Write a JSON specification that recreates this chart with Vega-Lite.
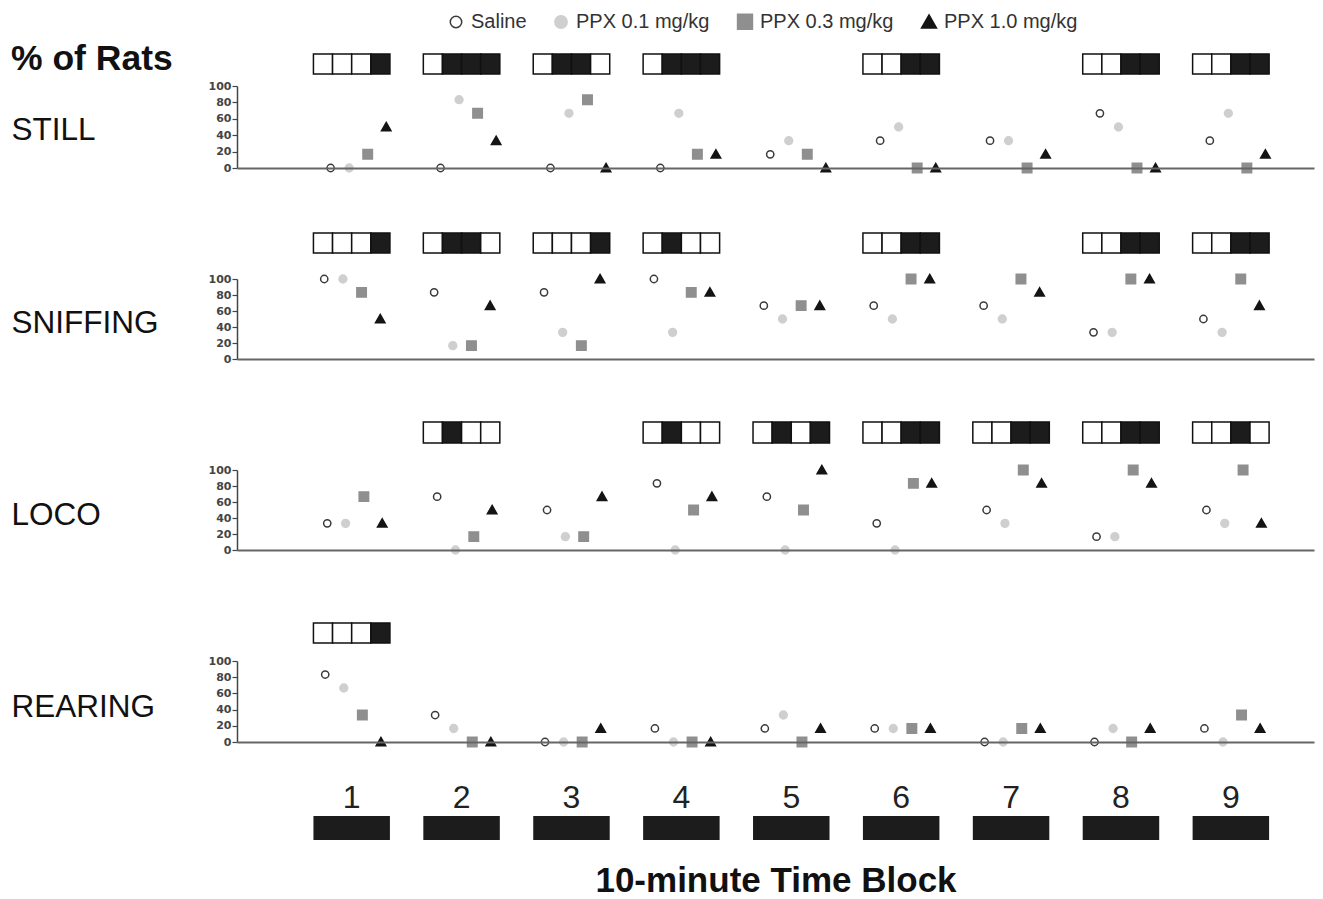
{
"$schema": "https://vega.github.io/schema/vega-lite/v6.json",
"padding": {"left": 11, "top": 11, "right": 9, "bottom": 4},
"background": "#ffffff",
"datasets": {
"pts": [
{"b":"STILL","block":1,"t":"Saline","v":0},{"b":"STILL","block":1,"t":"PPX 0.1 mg/kg","v":0},{"b":"STILL","block":1,"t":"PPX 0.3 mg/kg","v":16.7},{"b":"STILL","block":1,"t":"PPX 1.0 mg/kg","v":50},
{"b":"STILL","block":2,"t":"Saline","v":0},{"b":"STILL","block":2,"t":"PPX 0.1 mg/kg","v":83.3},{"b":"STILL","block":2,"t":"PPX 0.3 mg/kg","v":66.7},{"b":"STILL","block":2,"t":"PPX 1.0 mg/kg","v":33.3},
{"b":"STILL","block":3,"t":"Saline","v":0},{"b":"STILL","block":3,"t":"PPX 0.1 mg/kg","v":66.7},{"b":"STILL","block":3,"t":"PPX 0.3 mg/kg","v":83.3},{"b":"STILL","block":3,"t":"PPX 1.0 mg/kg","v":0},
{"b":"STILL","block":4,"t":"Saline","v":0},{"b":"STILL","block":4,"t":"PPX 0.1 mg/kg","v":66.7},{"b":"STILL","block":4,"t":"PPX 0.3 mg/kg","v":16.7},{"b":"STILL","block":4,"t":"PPX 1.0 mg/kg","v":16.7},
{"b":"STILL","block":5,"t":"Saline","v":16.7},{"b":"STILL","block":5,"t":"PPX 0.1 mg/kg","v":33.3},{"b":"STILL","block":5,"t":"PPX 0.3 mg/kg","v":16.7},{"b":"STILL","block":5,"t":"PPX 1.0 mg/kg","v":0},
{"b":"STILL","block":6,"t":"Saline","v":33.3},{"b":"STILL","block":6,"t":"PPX 0.1 mg/kg","v":50},{"b":"STILL","block":6,"t":"PPX 0.3 mg/kg","v":0},{"b":"STILL","block":6,"t":"PPX 1.0 mg/kg","v":0},
{"b":"STILL","block":7,"t":"Saline","v":33.3},{"b":"STILL","block":7,"t":"PPX 0.1 mg/kg","v":33.3},{"b":"STILL","block":7,"t":"PPX 0.3 mg/kg","v":0},{"b":"STILL","block":7,"t":"PPX 1.0 mg/kg","v":16.7},
{"b":"STILL","block":8,"t":"Saline","v":66.7},{"b":"STILL","block":8,"t":"PPX 0.1 mg/kg","v":50},{"b":"STILL","block":8,"t":"PPX 0.3 mg/kg","v":0},{"b":"STILL","block":8,"t":"PPX 1.0 mg/kg","v":0},
{"b":"STILL","block":9,"t":"Saline","v":33.3},{"b":"STILL","block":9,"t":"PPX 0.1 mg/kg","v":66.7},{"b":"STILL","block":9,"t":"PPX 0.3 mg/kg","v":0},{"b":"STILL","block":9,"t":"PPX 1.0 mg/kg","v":16.7},
{"b":"SNIFFING","block":1,"t":"Saline","v":100},{"b":"SNIFFING","block":1,"t":"PPX 0.1 mg/kg","v":100},{"b":"SNIFFING","block":1,"t":"PPX 0.3 mg/kg","v":83.3},{"b":"SNIFFING","block":1,"t":"PPX 1.0 mg/kg","v":50},
{"b":"SNIFFING","block":2,"t":"Saline","v":83.3},{"b":"SNIFFING","block":2,"t":"PPX 0.1 mg/kg","v":16.7},{"b":"SNIFFING","block":2,"t":"PPX 0.3 mg/kg","v":16.7},{"b":"SNIFFING","block":2,"t":"PPX 1.0 mg/kg","v":66.7},
{"b":"SNIFFING","block":3,"t":"Saline","v":83.3},{"b":"SNIFFING","block":3,"t":"PPX 0.1 mg/kg","v":33.3},{"b":"SNIFFING","block":3,"t":"PPX 0.3 mg/kg","v":16.7},{"b":"SNIFFING","block":3,"t":"PPX 1.0 mg/kg","v":100},
{"b":"SNIFFING","block":4,"t":"Saline","v":100},{"b":"SNIFFING","block":4,"t":"PPX 0.1 mg/kg","v":33.3},{"b":"SNIFFING","block":4,"t":"PPX 0.3 mg/kg","v":83.3},{"b":"SNIFFING","block":4,"t":"PPX 1.0 mg/kg","v":83.3},
{"b":"SNIFFING","block":5,"t":"Saline","v":66.7},{"b":"SNIFFING","block":5,"t":"PPX 0.1 mg/kg","v":50},{"b":"SNIFFING","block":5,"t":"PPX 0.3 mg/kg","v":66.7},{"b":"SNIFFING","block":5,"t":"PPX 1.0 mg/kg","v":66.7},
{"b":"SNIFFING","block":6,"t":"Saline","v":66.7},{"b":"SNIFFING","block":6,"t":"PPX 0.1 mg/kg","v":50},{"b":"SNIFFING","block":6,"t":"PPX 0.3 mg/kg","v":100},{"b":"SNIFFING","block":6,"t":"PPX 1.0 mg/kg","v":100},
{"b":"SNIFFING","block":7,"t":"Saline","v":66.7},{"b":"SNIFFING","block":7,"t":"PPX 0.1 mg/kg","v":50},{"b":"SNIFFING","block":7,"t":"PPX 0.3 mg/kg","v":100},{"b":"SNIFFING","block":7,"t":"PPX 1.0 mg/kg","v":83.3},
{"b":"SNIFFING","block":8,"t":"Saline","v":33.3},{"b":"SNIFFING","block":8,"t":"PPX 0.1 mg/kg","v":33.3},{"b":"SNIFFING","block":8,"t":"PPX 0.3 mg/kg","v":100},{"b":"SNIFFING","block":8,"t":"PPX 1.0 mg/kg","v":100},
{"b":"SNIFFING","block":9,"t":"Saline","v":50},{"b":"SNIFFING","block":9,"t":"PPX 0.1 mg/kg","v":33.3},{"b":"SNIFFING","block":9,"t":"PPX 0.3 mg/kg","v":100},{"b":"SNIFFING","block":9,"t":"PPX 1.0 mg/kg","v":66.7},
{"b":"LOCO","block":1,"t":"Saline","v":33.3},{"b":"LOCO","block":1,"t":"PPX 0.1 mg/kg","v":33.3},{"b":"LOCO","block":1,"t":"PPX 0.3 mg/kg","v":66.7},{"b":"LOCO","block":1,"t":"PPX 1.0 mg/kg","v":33.3},
{"b":"LOCO","block":2,"t":"Saline","v":66.7},{"b":"LOCO","block":2,"t":"PPX 0.1 mg/kg","v":0},{"b":"LOCO","block":2,"t":"PPX 0.3 mg/kg","v":16.7},{"b":"LOCO","block":2,"t":"PPX 1.0 mg/kg","v":50},
{"b":"LOCO","block":3,"t":"Saline","v":50},{"b":"LOCO","block":3,"t":"PPX 0.1 mg/kg","v":16.7},{"b":"LOCO","block":3,"t":"PPX 0.3 mg/kg","v":16.7},{"b":"LOCO","block":3,"t":"PPX 1.0 mg/kg","v":66.7},
{"b":"LOCO","block":4,"t":"Saline","v":83.3},{"b":"LOCO","block":4,"t":"PPX 0.1 mg/kg","v":0},{"b":"LOCO","block":4,"t":"PPX 0.3 mg/kg","v":50},{"b":"LOCO","block":4,"t":"PPX 1.0 mg/kg","v":66.7},
{"b":"LOCO","block":5,"t":"Saline","v":66.7},{"b":"LOCO","block":5,"t":"PPX 0.1 mg/kg","v":0},{"b":"LOCO","block":5,"t":"PPX 0.3 mg/kg","v":50},{"b":"LOCO","block":5,"t":"PPX 1.0 mg/kg","v":100},
{"b":"LOCO","block":6,"t":"Saline","v":33.3},{"b":"LOCO","block":6,"t":"PPX 0.1 mg/kg","v":0},{"b":"LOCO","block":6,"t":"PPX 0.3 mg/kg","v":83.3},{"b":"LOCO","block":6,"t":"PPX 1.0 mg/kg","v":83.3},
{"b":"LOCO","block":7,"t":"Saline","v":50},{"b":"LOCO","block":7,"t":"PPX 0.1 mg/kg","v":33.3},{"b":"LOCO","block":7,"t":"PPX 0.3 mg/kg","v":100},{"b":"LOCO","block":7,"t":"PPX 1.0 mg/kg","v":83.3},
{"b":"LOCO","block":8,"t":"Saline","v":16.7},{"b":"LOCO","block":8,"t":"PPX 0.1 mg/kg","v":16.7},{"b":"LOCO","block":8,"t":"PPX 0.3 mg/kg","v":100},{"b":"LOCO","block":8,"t":"PPX 1.0 mg/kg","v":83.3},
{"b":"LOCO","block":9,"t":"Saline","v":50},{"b":"LOCO","block":9,"t":"PPX 0.1 mg/kg","v":33.3},{"b":"LOCO","block":9,"t":"PPX 0.3 mg/kg","v":100},{"b":"LOCO","block":9,"t":"PPX 1.0 mg/kg","v":33.3},
{"b":"REARING","block":1,"t":"Saline","v":83.3},{"b":"REARING","block":1,"t":"PPX 0.1 mg/kg","v":66.7},{"b":"REARING","block":1,"t":"PPX 0.3 mg/kg","v":33.3},{"b":"REARING","block":1,"t":"PPX 1.0 mg/kg","v":0},
{"b":"REARING","block":2,"t":"Saline","v":33.3},{"b":"REARING","block":2,"t":"PPX 0.1 mg/kg","v":16.7},{"b":"REARING","block":2,"t":"PPX 0.3 mg/kg","v":0},{"b":"REARING","block":2,"t":"PPX 1.0 mg/kg","v":0},
{"b":"REARING","block":3,"t":"Saline","v":0},{"b":"REARING","block":3,"t":"PPX 0.1 mg/kg","v":0},{"b":"REARING","block":3,"t":"PPX 0.3 mg/kg","v":0},{"b":"REARING","block":3,"t":"PPX 1.0 mg/kg","v":16.7},
{"b":"REARING","block":4,"t":"Saline","v":16.7},{"b":"REARING","block":4,"t":"PPX 0.1 mg/kg","v":0},{"b":"REARING","block":4,"t":"PPX 0.3 mg/kg","v":0},{"b":"REARING","block":4,"t":"PPX 1.0 mg/kg","v":0},
{"b":"REARING","block":5,"t":"Saline","v":16.7},{"b":"REARING","block":5,"t":"PPX 0.1 mg/kg","v":33.3},{"b":"REARING","block":5,"t":"PPX 0.3 mg/kg","v":0},{"b":"REARING","block":5,"t":"PPX 1.0 mg/kg","v":16.7},
{"b":"REARING","block":6,"t":"Saline","v":16.7},{"b":"REARING","block":6,"t":"PPX 0.1 mg/kg","v":16.7},{"b":"REARING","block":6,"t":"PPX 0.3 mg/kg","v":16.7},{"b":"REARING","block":6,"t":"PPX 1.0 mg/kg","v":16.7},
{"b":"REARING","block":7,"t":"Saline","v":0},{"b":"REARING","block":7,"t":"PPX 0.1 mg/kg","v":0},{"b":"REARING","block":7,"t":"PPX 0.3 mg/kg","v":16.7},{"b":"REARING","block":7,"t":"PPX 1.0 mg/kg","v":16.7},
{"b":"REARING","block":8,"t":"Saline","v":0},{"b":"REARING","block":8,"t":"PPX 0.1 mg/kg","v":16.7},{"b":"REARING","block":8,"t":"PPX 0.3 mg/kg","v":0},{"b":"REARING","block":8,"t":"PPX 1.0 mg/kg","v":16.7},
{"b":"REARING","block":9,"t":"Saline","v":16.7},{"b":"REARING","block":9,"t":"PPX 0.1 mg/kg","v":0},{"b":"REARING","block":9,"t":"PPX 0.3 mg/kg","v":33.3},{"b":"REARING","block":9,"t":"PPX 1.0 mg/kg","v":16.7}
],
"cells": [
{"b":"STILL","block":1,"t":"Saline","s":0},{"b":"STILL","block":1,"t":"PPX 0.1 mg/kg","s":0},{"b":"STILL","block":1,"t":"PPX 0.3 mg/kg","s":0},{"b":"STILL","block":1,"t":"PPX 1.0 mg/kg","s":1},
{"b":"STILL","block":2,"t":"Saline","s":0},{"b":"STILL","block":2,"t":"PPX 0.1 mg/kg","s":1},{"b":"STILL","block":2,"t":"PPX 0.3 mg/kg","s":1},{"b":"STILL","block":2,"t":"PPX 1.0 mg/kg","s":1},
{"b":"STILL","block":3,"t":"Saline","s":0},{"b":"STILL","block":3,"t":"PPX 0.1 mg/kg","s":1},{"b":"STILL","block":3,"t":"PPX 0.3 mg/kg","s":1},{"b":"STILL","block":3,"t":"PPX 1.0 mg/kg","s":0},
{"b":"STILL","block":4,"t":"Saline","s":0},{"b":"STILL","block":4,"t":"PPX 0.1 mg/kg","s":1},{"b":"STILL","block":4,"t":"PPX 0.3 mg/kg","s":1},{"b":"STILL","block":4,"t":"PPX 1.0 mg/kg","s":1},
{"b":"STILL","block":6,"t":"Saline","s":0},{"b":"STILL","block":6,"t":"PPX 0.1 mg/kg","s":0},{"b":"STILL","block":6,"t":"PPX 0.3 mg/kg","s":1},{"b":"STILL","block":6,"t":"PPX 1.0 mg/kg","s":1},
{"b":"STILL","block":8,"t":"Saline","s":0},{"b":"STILL","block":8,"t":"PPX 0.1 mg/kg","s":0},{"b":"STILL","block":8,"t":"PPX 0.3 mg/kg","s":1},{"b":"STILL","block":8,"t":"PPX 1.0 mg/kg","s":1},
{"b":"STILL","block":9,"t":"Saline","s":0},{"b":"STILL","block":9,"t":"PPX 0.1 mg/kg","s":0},{"b":"STILL","block":9,"t":"PPX 0.3 mg/kg","s":1},{"b":"STILL","block":9,"t":"PPX 1.0 mg/kg","s":1},
{"b":"SNIFFING","block":1,"t":"Saline","s":0},{"b":"SNIFFING","block":1,"t":"PPX 0.1 mg/kg","s":0},{"b":"SNIFFING","block":1,"t":"PPX 0.3 mg/kg","s":0},{"b":"SNIFFING","block":1,"t":"PPX 1.0 mg/kg","s":1},
{"b":"SNIFFING","block":2,"t":"Saline","s":0},{"b":"SNIFFING","block":2,"t":"PPX 0.1 mg/kg","s":1},{"b":"SNIFFING","block":2,"t":"PPX 0.3 mg/kg","s":1},{"b":"SNIFFING","block":2,"t":"PPX 1.0 mg/kg","s":0},
{"b":"SNIFFING","block":3,"t":"Saline","s":0},{"b":"SNIFFING","block":3,"t":"PPX 0.1 mg/kg","s":0},{"b":"SNIFFING","block":3,"t":"PPX 0.3 mg/kg","s":0},{"b":"SNIFFING","block":3,"t":"PPX 1.0 mg/kg","s":1},
{"b":"SNIFFING","block":4,"t":"Saline","s":0},{"b":"SNIFFING","block":4,"t":"PPX 0.1 mg/kg","s":1},{"b":"SNIFFING","block":4,"t":"PPX 0.3 mg/kg","s":0},{"b":"SNIFFING","block":4,"t":"PPX 1.0 mg/kg","s":0},
{"b":"SNIFFING","block":6,"t":"Saline","s":0},{"b":"SNIFFING","block":6,"t":"PPX 0.1 mg/kg","s":0},{"b":"SNIFFING","block":6,"t":"PPX 0.3 mg/kg","s":1},{"b":"SNIFFING","block":6,"t":"PPX 1.0 mg/kg","s":1},
{"b":"SNIFFING","block":8,"t":"Saline","s":0},{"b":"SNIFFING","block":8,"t":"PPX 0.1 mg/kg","s":0},{"b":"SNIFFING","block":8,"t":"PPX 0.3 mg/kg","s":1},{"b":"SNIFFING","block":8,"t":"PPX 1.0 mg/kg","s":1},
{"b":"SNIFFING","block":9,"t":"Saline","s":0},{"b":"SNIFFING","block":9,"t":"PPX 0.1 mg/kg","s":0},{"b":"SNIFFING","block":9,"t":"PPX 0.3 mg/kg","s":1},{"b":"SNIFFING","block":9,"t":"PPX 1.0 mg/kg","s":1},
{"b":"LOCO","block":2,"t":"Saline","s":0},{"b":"LOCO","block":2,"t":"PPX 0.1 mg/kg","s":1},{"b":"LOCO","block":2,"t":"PPX 0.3 mg/kg","s":0},{"b":"LOCO","block":2,"t":"PPX 1.0 mg/kg","s":0},
{"b":"LOCO","block":4,"t":"Saline","s":0},{"b":"LOCO","block":4,"t":"PPX 0.1 mg/kg","s":1},{"b":"LOCO","block":4,"t":"PPX 0.3 mg/kg","s":0},{"b":"LOCO","block":4,"t":"PPX 1.0 mg/kg","s":0},
{"b":"LOCO","block":5,"t":"Saline","s":0},{"b":"LOCO","block":5,"t":"PPX 0.1 mg/kg","s":1},{"b":"LOCO","block":5,"t":"PPX 0.3 mg/kg","s":0},{"b":"LOCO","block":5,"t":"PPX 1.0 mg/kg","s":1},
{"b":"LOCO","block":6,"t":"Saline","s":0},{"b":"LOCO","block":6,"t":"PPX 0.1 mg/kg","s":0},{"b":"LOCO","block":6,"t":"PPX 0.3 mg/kg","s":1},{"b":"LOCO","block":6,"t":"PPX 1.0 mg/kg","s":1},
{"b":"LOCO","block":7,"t":"Saline","s":0},{"b":"LOCO","block":7,"t":"PPX 0.1 mg/kg","s":0},{"b":"LOCO","block":7,"t":"PPX 0.3 mg/kg","s":1},{"b":"LOCO","block":7,"t":"PPX 1.0 mg/kg","s":1},
{"b":"LOCO","block":8,"t":"Saline","s":0},{"b":"LOCO","block":8,"t":"PPX 0.1 mg/kg","s":0},{"b":"LOCO","block":8,"t":"PPX 0.3 mg/kg","s":1},{"b":"LOCO","block":8,"t":"PPX 1.0 mg/kg","s":1},
{"b":"LOCO","block":9,"t":"Saline","s":0},{"b":"LOCO","block":9,"t":"PPX 0.1 mg/kg","s":0},{"b":"LOCO","block":9,"t":"PPX 0.3 mg/kg","s":1},{"b":"LOCO","block":9,"t":"PPX 1.0 mg/kg","s":0},
{"b":"REARING","block":1,"t":"Saline","s":0},{"b":"REARING","block":1,"t":"PPX 0.1 mg/kg","s":0},{"b":"REARING","block":1,"t":"PPX 0.3 mg/kg","s":0},{"b":"REARING","block":1,"t":"PPX 1.0 mg/kg","s":1}
],
"blocks": [{"block":1},{"block":2},{"block":3},{"block":4},{"block":5},{"block":6},{"block":7},{"block":8},{"block":9}]
},
"vconcat": [
{
"width": 1077, "height": 82,
"title": {"text": "% of Rats", "anchor": "start", "frame": "bounds", "orient": "top", "offset": -16, "dy": 36, "baseline": "alphabetic", "font": "Liberation Sans", "fontSize": 35.5, "fontWeight": "bold", "color": "#111111"},
"layer": [
{"data": {"name": "cells"}, "transform": [{"filter": "datum.b === 'STILL'"}],
 "mark": {"type": "rect", "stroke": "#111111", "strokeWidth": 1.5},
 "encoding": {
  "x": {"field": "block", "type": "ordinal", "scale": {"type": "band", "domain": [1,2,3,4,5,6,7,8,9], "paddingInner": 0.304, "paddingOuter": 0.552, "align": 0.63}, "axis": {"title": null, "labels": false, "ticks": false, "domainColor": "#666666", "domainWidth": 2}},
  "xOffset": {"field": "t", "type": "nominal", "scale": {"type": "band", "domain": ["Saline","PPX 0.1 mg/kg","PPX 0.3 mg/kg","PPX 1.0 mg/kg"], "paddingInner": 0, "paddingOuter": 0}},
  "y": {"datum": 139, "type": "quantitative", "scale": {"domain": [0, 100], "nice": false, "zero": false}, "axis": {"title": "STILL", "values": [0,20,40,60,80,100], "labelOverlap": false, "labelBound": false, "titleY": 44}},
  "y2": {"datum": 114.6},
  "fill": {"condition": {"test": "datum.s == 1", "value": "#1c1c1c"}, "value": "#ffffff"}
 }},
{"data": {"name": "pts"}, "transform": [{"filter": "datum.b === 'STILL'"}],
 "mark": {"type": "point", "filled": true, "size": 121, "strokeWidth": 1.5, "opacity": 1},
 "encoding": {
  "x": {"field": "block", "type": "ordinal"},
  "xOffset": {"field": "t", "type": "nominal", "scale": {"type": "point", "domain": ["Saline","PPX 0.1 mg/kg","PPX 0.3 mg/kg","PPX 1.0 mg/kg"], "padding": 0.564, "align": 0.823}},
  "y": {"field": "v", "type": "quantitative", "axis": {"title": "STILL", "values": [0,20,40,60,80,100], "labelOverlap": false, "labelBound": false, "titleY": 44}},
  "shape": {"field": "t", "type": "nominal", "scale": {"domain": ["Saline","PPX 0.1 mg/kg","PPX 0.3 mg/kg","PPX 1.0 mg/kg"], "range": ["M0.66,0A0.66,0.66 0 1,1 -0.66,0A0.66,0.66 0 1,1 0.66,0Z","M0.71,0A0.71,0.71 0 1,1 -0.71,0A0.71,0.71 0 1,1 0.71,0Z","M-0.86,-0.86H0.86V0.86H-0.86Z","M0,-0.82L0.86,0.68L-0.86,0.68Z"]}, "legend": {"title": null}},
  "fill": {"field": "t", "type": "nominal", "scale": {"domain": ["Saline","PPX 0.1 mg/kg","PPX 0.3 mg/kg","PPX 1.0 mg/kg"], "range": ["#ffffff","#cfcfcf","#8f8f8f","#141414"]}, "legend": {"title": null}},
  "stroke": {"field": "t", "type": "nominal", "scale": {"domain": ["Saline","PPX 0.1 mg/kg","PPX 0.3 mg/kg","PPX 1.0 mg/kg"], "range": ["#3a3a3a","#cfcfcf","#8f8f8f","#141414"]}, "legend": {"title": null}}
 }}
],
"resolve": {"scale": {"xOffset": "independent"}}
},
{
"width": 1077, "height": 80,
"layer": [
{"data": {"name": "cells"}, "transform": [{"filter": "datum.b === 'SNIFFING'"}],
 "mark": {"type": "rect", "stroke": "#111111", "strokeWidth": 1.5},
 "encoding": {
  "x": {"field": "block", "type": "ordinal", "scale": {"type": "band", "domain": [1,2,3,4,5,6,7,8,9], "paddingInner": 0.304, "paddingOuter": 0.552, "align": 0.63}, "axis": {"title": null, "labels": false, "ticks": false, "domainColor": "#666666", "domainWidth": 2}},
  "xOffset": {"field": "t", "type": "nominal", "scale": {"type": "band", "domain": ["Saline","PPX 0.1 mg/kg","PPX 0.3 mg/kg","PPX 1.0 mg/kg"], "paddingInner": 0, "paddingOuter": 0}},
  "y": {"datum": 157.5, "type": "quantitative", "scale": {"domain": [0, 100], "nice": false, "zero": false}, "axis": {"title": "SNIFFING", "values": [0,20,40,60,80,100], "labelOverlap": false, "labelBound": false, "titleY": 44}},
  "y2": {"datum": 132.5},
  "fill": {"condition": {"test": "datum.s == 1", "value": "#1c1c1c"}, "value": "#ffffff"}
 }},
{"data": {"name": "pts"}, "transform": [{"filter": "datum.b === 'SNIFFING'"}],
 "mark": {"type": "point", "filled": true, "size": 121, "strokeWidth": 1.5, "opacity": 1},
 "encoding": {
  "x": {"field": "block", "type": "ordinal"},
  "xOffset": {"field": "t", "type": "nominal", "scale": {"type": "point", "domain": ["Saline","PPX 0.1 mg/kg","PPX 0.3 mg/kg","PPX 1.0 mg/kg"], "padding": 0.549, "align": 0.527}},
  "y": {"field": "v", "type": "quantitative", "axis": {"title": "SNIFFING", "values": [0,20,40,60,80,100], "labelOverlap": false, "labelBound": false, "titleY": 44}},
  "shape": {"field": "t", "type": "nominal", "legend": {"title": null}},
  "fill": {"field": "t", "type": "nominal", "legend": {"title": null}},
  "stroke": {"field": "t", "type": "nominal", "legend": {"title": null}}
 }}
],
"resolve": {"scale": {"xOffset": "independent"}}
},
{
"width": 1077, "height": 80,
"layer": [
{"data": {"name": "cells"}, "transform": [{"filter": "datum.b === 'LOCO'"}],
 "mark": {"type": "rect", "stroke": "#111111", "strokeWidth": 1.5},
 "encoding": {
  "x": {"field": "block", "type": "ordinal", "scale": {"type": "band", "domain": [1,2,3,4,5,6,7,8,9], "paddingInner": 0.304, "paddingOuter": 0.552, "align": 0.63}, "axis": {"title": null, "labels": false, "ticks": false, "domainColor": "#666666", "domainWidth": 2}},
  "xOffset": {"field": "t", "type": "nominal", "scale": {"type": "band", "domain": ["Saline","PPX 0.1 mg/kg","PPX 0.3 mg/kg","PPX 1.0 mg/kg"], "paddingInner": 0, "paddingOuter": 0}},
  "y": {"datum": 160, "type": "quantitative", "scale": {"domain": [0, 100], "nice": false, "zero": false}, "axis": {"title": "LOCO", "values": [0,20,40,60,80,100], "labelOverlap": false, "labelBound": false, "titleY": 45}},
  "y2": {"datum": 133.8},
  "fill": {"condition": {"test": "datum.s == 1", "value": "#1c1c1c"}, "value": "#ffffff"}
 }},
{"data": {"name": "pts"}, "transform": [{"filter": "datum.b === 'LOCO'"}],
 "mark": {"type": "point", "filled": true, "size": 121, "strokeWidth": 1.5, "opacity": 1},
 "encoding": {
  "x": {"field": "block", "type": "ordinal"},
  "xOffset": {"field": "t", "type": "nominal", "scale": {"type": "point", "domain": ["Saline","PPX 0.1 mg/kg","PPX 0.3 mg/kg","PPX 1.0 mg/kg"], "padding": 0.587, "align": 0.642}},
  "y": {"field": "v", "type": "quantitative", "axis": {"title": "LOCO", "values": [0,20,40,60,80,100], "labelOverlap": false, "labelBound": false, "titleY": 45}},
  "shape": {"field": "t", "type": "nominal", "legend": {"title": null}},
  "fill": {"field": "t", "type": "nominal", "legend": {"title": null}},
  "stroke": {"field": "t", "type": "nominal", "legend": {"title": null}}
 }}
],
"resolve": {"scale": {"xOffset": "independent"}}
},
{
"width": 1077, "height": 81,
"layer": [
{"data": {"name": "cells"}, "transform": [{"filter": "datum.b === 'REARING'"}],
 "mark": {"type": "rect", "stroke": "#111111", "strokeWidth": 1.5},
 "encoding": {
  "x": {"field": "block", "type": "ordinal", "scale": {"type": "band", "domain": [1,2,3,4,5,6,7,8,9], "paddingInner": 0.304, "paddingOuter": 0.552, "align": 0.63}, "axis": {"title": "10-minute Time Block", "labels": true, "labelAngle": 0, "labelFont": "Liberation Sans Narrow, Liberation Sans", "labelFontSize": 32, "labelColor": "#222222", "labelPadding": 40, "ticks": false, "tickSize": 0, "domainColor": "#666666", "domainWidth": 2, "titleFont": "Liberation Sans", "titleFontSize": 35, "titleFontWeight": "bold", "titleColor": "#111111", "titlePadding": 50}},
  "xOffset": {"field": "t", "type": "nominal", "scale": {"type": "band", "domain": ["Saline","PPX 0.1 mg/kg","PPX 0.3 mg/kg","PPX 1.0 mg/kg"], "paddingInner": 0, "paddingOuter": 0}},
  "y": {"datum": 146.9, "type": "quantitative", "scale": {"domain": [0, 100], "nice": false, "zero": false}, "axis": {"title": "REARING", "values": [0,20,40,60,80,100], "labelOverlap": false, "labelBound": false, "titleY": 46}},
  "y2": {"datum": 122.2},
  "fill": {"condition": {"test": "datum.s == 1", "value": "#1c1c1c"}, "value": "#ffffff"}
 }},
{"data": {"name": "blocks"},
 "mark": {"type": "rect", "fill": "#1c1c1c"},
 "encoding": {
  "x": {"field": "block", "type": "ordinal"},
  "y": {"datum": -91.4, "type": "quantitative", "axis": {"title": "REARING", "values": [0,20,40,60,80,100], "labelOverlap": false, "labelBound": false, "titleY": 46}},
  "y2": {"datum": -121}
 }},
{"data": {"name": "pts"}, "transform": [{"filter": "datum.b === 'REARING'"}],
 "mark": {"type": "point", "filled": true, "size": 121, "strokeWidth": 1.5, "opacity": 1},
 "encoding": {
  "x": {"field": "block", "type": "ordinal"},
  "xOffset": {"field": "t", "type": "nominal", "scale": {"type": "point", "domain": ["Saline","PPX 0.1 mg/kg","PPX 0.3 mg/kg","PPX 1.0 mg/kg"], "padding": 0.56, "align": 0.567}},
  "y": {"field": "v", "type": "quantitative", "axis": {"title": "REARING", "values": [0,20,40,60,80,100], "labelOverlap": false, "labelBound": false, "titleY": 46}},
  "shape": {"field": "t", "type": "nominal", "legend": {"title": null}},
  "fill": {"field": "t", "type": "nominal", "legend": {"title": null}},
  "stroke": {"field": "t", "type": "nominal", "legend": {"title": null}}
 }}
],
"resolve": {"scale": {"xOffset": "independent"}}
}
],
"spacing": 111,
"bounds": "flush",
"config": {
 "view": {"stroke": null},
 "axisY": {"labelFont": "DejaVu Sans", "labelFontSize": 11, "labelFontWeight": "bold", "labelColor": "#444444", "labelPadding": 1, "labelOverlap": false, "tickSize": 5, "tickColor": "#444444", "tickWidth": 1.2, "domainColor": "#444444", "domainWidth": 1.5, "grid": false, "titleAngle": 0, "titleAlign": "left", "titleBaseline": "middle", "titleX": -226, "titleFont": "Liberation Sans", "titleFontSize": 31.5, "titleFontWeight": "normal", "titleColor": "#111111"},
 "axisX": {"grid": false},
 "legend": {"orient": "none", "legendX": 209, "legendY": -74.5, "direction": "horizontal", "labelFont": "Liberation Sans", "labelFontSize": 20, "labelColor": "#333333", "symbolStrokeWidth": 1.5, "columnPadding": 24, "labelOffset": 5, "symbolSize": 300}
}
}
